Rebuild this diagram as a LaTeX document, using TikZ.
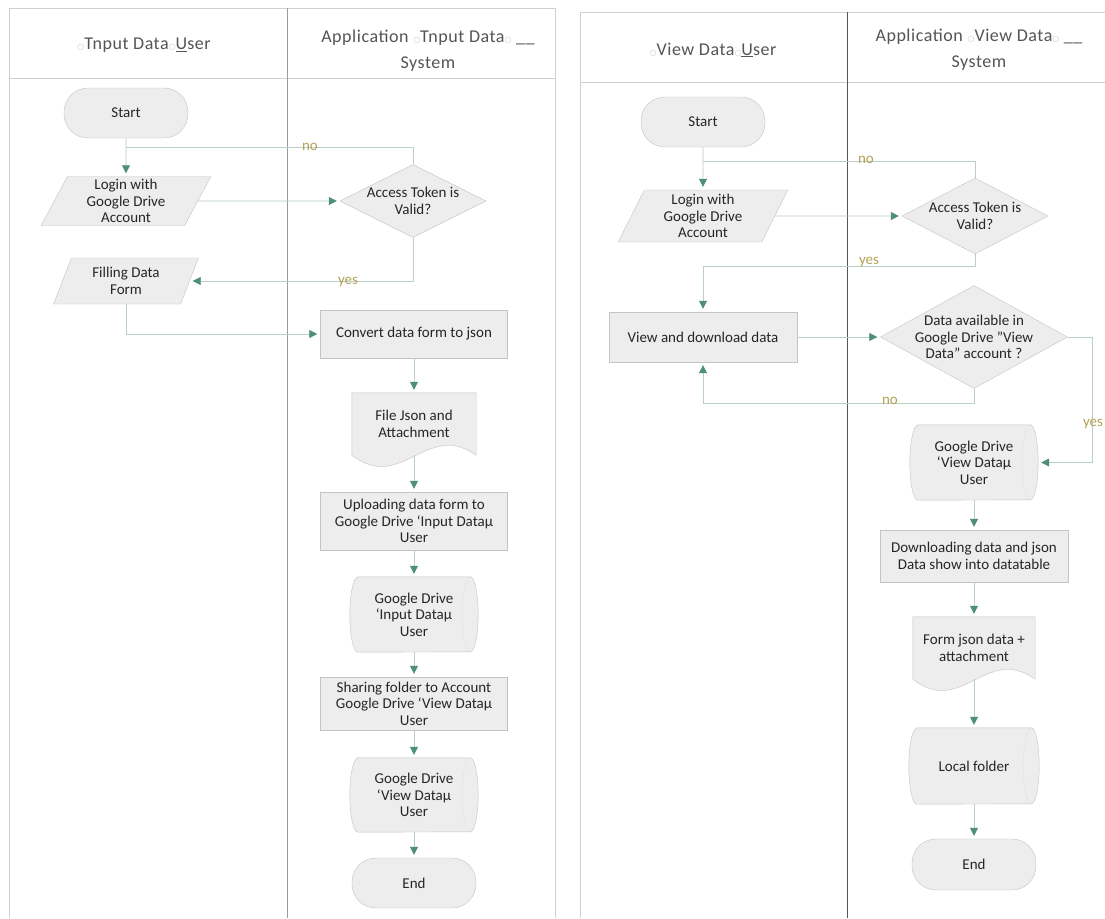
\documentclass[tikz,border=0pt]{standalone}
\usepackage{fontspec}
\setmainfont{Carlito}
\newfontfamily\symfont{DejaVu Sans}
\usetikzlibrary{shapes.geometric,arrows.meta,calc}
\pgfdeclarelayer{back}
\pgfdeclarelayer{shapes}
\pgfsetlayers{back,shapes,main}
\definecolor{nfill}{HTML}{EDEDED}
\definecolor{nline}{HTML}{C4C4C4}
\definecolor{inner}{HTML}{CFCFCF}
\definecolor{txt}{HTML}{262626}
\definecolor{lc}{HTML}{B8CEC6}
\definecolor{ac}{HTML}{4E8F77}
\definecolor{lblc}{HTML}{B4A257}
\definecolor{frame}{HTML}{D0D0D0}
\definecolor{divc}{HTML}{9A9A9A}
\definecolor{divd}{HTML}{555555}
\definecolor{hdr}{HTML}{555555}
\newcommand\nodefont{\fontsize{15}{16.5}\selectfont}
\newcommand\hdrfont{\fontsize{18}{26}\selectfont\addfontfeatures{LetterSpace=3}}
\newcommand\hc{{\symfont\fontsize{8}{8}\selectfont\textcolor{gray!45}{○}}}
\newcommand\qd{\symbol{"22}}
\newcommand\docshape[1]{%
  \path[draw=nline,fill=nfill] (#1.north west) -- (#1.north east) -- (#1.south east)
    .. controls ($(#1.south west)!0.6!(#1.south east)+(0,35)$) and ($(#1.south west)!0.4!(#1.south east)+(0,-38)$) .. (#1.south west) -- cycle;}
\newcommand\storedshape[2]{%
  \path[draw=nline,fill=nfill] ([xshift=8pt]#1.north west) -- ([xshift=-8pt]#1.north east)
    arc[start angle=90,end angle=-90,x radius=8pt,y radius=#2pt]
    -- ([xshift=8pt]#1.south west)
    arc[start angle=270,end angle=90,x radius=8pt,y radius=#2pt] -- cycle;
  \draw[inner, densely dotted] ([xshift=-8pt]#1.north east) arc[start angle=90,end angle=270,x radius=8pt,y radius=#2pt];}
\begin{document}
\begin{tikzpicture}[x=1pt,y=1pt,
  base/.style={inner sep=0pt, align=center, font=\nodefont, text=txt},
  term/.style={base, rectangle, rounded corners=24pt, draw=nline, fill=nfill},
  proc/.style={base, rectangle, draw=nline, fill=nfill},
  dec/.style={base, diamond, draw=nline, fill=nfill},
  io/.style={base, trapezium, trapezium left angle=68, trapezium right angle=112, trapezium stretches=true, draw=nline, fill=nfill},
  plain/.style={base, rectangle},
  conn/.style={draw=lc, line width=0.8pt, -{Triangle[length=8pt,width=8pt,color=ac]}, shorten >=3pt},
  link/.style={draw=lc, line width=0.8pt},
  lbl/.style={font=\nodefont, text=lblc, inner sep=1pt},
  hd/.style={align=center, font=\hdrfont, text=hdr, inner sep=0pt},
  fr/.style={draw=frame, line width=0.8pt}]
\useasboundingbox (0,0) rectangle (1105,-918);
\begin{pgfonlayer}{back}
\fill[white] (0,0) rectangle (1105,-918);
% left panel
\draw[fr] (9,-8) -- (555,-8);
\draw[fr] (9,-78) -- (555,-78);
\draw[fr] (9,-8) -- (9,-918);
\draw[fr] (555,-8) -- (555,-918);
\draw[draw=divc, line width=0.8pt] (287,-8) -- (287,-918);
% right panel
\draw[fr] (580,-12) -- (1105,-12);
\draw[fr] (580,-82) -- (1105,-82);
\draw[fr] (580,-12) -- (580,-918);
\draw[draw=divd, line width=0.8pt] (847,-12) -- (847,-918);
\end{pgfonlayer}

% headers
\node[hd] (h1) at (144,-45) {\hc Tnput Data\hc\underline{U}ser};
\node[hd] (h2) at (428,-51) {Application \hc Tnput Data\hc\ \_\_\\System};
\node[hd] (h3) at (713,-50) {\hc View Data\hc\underline{U}ser};
\node[hd] (h4) at (979,-50) {Application \hc View Data\hc\ \_\_\\System};

% ---------- left flow ----------
\node[term, minimum width=124pt, minimum height=50pt] (s1) at (126,-113) {Start};
\node[io, minimum width=170pt, minimum height=49pt] (l1) at (126,-201) {Login with\\Google Drive\\Account};
\node[dec, minimum width=146pt, minimum height=73pt] (a1) at (413,-201) {};
\node[base] (a1t) at (a1) {Access Token is\\Valid?};
\node[io, minimum width=145pt, minimum height=46pt] (f1) at (126,-281) {Filling Data\\Form};
\node[proc, minimum width=187pt, minimum height=48pt] (c1) at (414,-334) {Convert data form to json};
\node[plain, minimum width=124pt, minimum height=62pt] (d1) at (414,-424) {File Json and\\Attachment};
\node[proc, minimum width=187pt, minimum height=58pt] (u1) at (414,-521) {Uploading data form to\\Google Drive `Input Dataµ\\User};
\node[plain, minimum width=128pt, minimum height=75pt] (g1) at (414,-614.5) {Google Drive\\`Input Dataµ\\User};
\node[proc, minimum width=187pt, minimum height=53pt] (r1) at (414,-703.5) {Sharing folder to Account\\Google Drive `View Dataµ\\User};
\node[plain, minimum width=128pt, minimum height=74pt] (g2) at (414,-795) {Google Drive\\`View Dataµ\\User};
\node[term, minimum width=124pt, minimum height=50pt] (e1) at (414,-883) {End};

% ---------- right flow ----------
\node[term, minimum width=124pt, minimum height=50pt] (s2) at (703,-122) {Start};
\node[io, minimum width=170pt, minimum height=52pt] (l2) at (703,-216) {Login with\\Google Drive\\Account};
\node[dec, minimum width=146pt, minimum height=76pt] (a2) at (975,-216) {};
\node[base] (a2t) at (a2) {Access Token is\\Valid?};
\node[proc, minimum width=188pt, minimum height=50pt] (v2) at (703,-337) {View and download data};
\node[dec, minimum width=187pt, minimum height=103pt] (q2) at (974,-337) {};
\node[base] (q2t) at (q2) {Data available in\\Google Drive \qd View\\Data\qd\ account ?};
\node[plain, minimum width=128pt, minimum height=75pt] (g3) at (974,-462.5) {Google Drive\\`View Dataµ\\User};
\node[proc, minimum width=188pt, minimum height=52pt] (k1) at (974,-556) {Downloading data and json\\Data show into datatable};
\node[plain, minimum width=122pt, minimum height=62pt] (d2) at (974,-648) {Form json data +\\attachment};
\node[plain, minimum width=130pt, minimum height=76pt] (k2) at (974,-766) {Local folder};
\node[term, minimum width=124pt, minimum height=51pt] (e2) at (974,-864.5) {End};

\begin{pgfonlayer}{shapes}
\docshape{d1}
\docshape{d2}
\storedshape{g1}{37.5}
\storedshape{g2}{37}
\storedshape{g3}{37.5}
\storedshape{k2}{38}
\end{pgfonlayer}

% ---------- left connectors ----------
\coordinate (j1) at (126,-147);
\draw[conn] (s1.south) -- (l1.north);
\draw[link] (a1.north) |- (j1);
\node[lbl] (lb1) at (310,-147) {no};
\draw[conn] (l1.east) -- (a1.west);
\draw[conn] (a1.south) |- (f1.east);
\node[lbl] (lb2) at (348,-282) {yes};
\draw[conn] (f1.south) |- (c1.west);
\draw[conn] (c1.south) -- (d1.north);
\draw[conn] (d1.south) -- (u1.north);
\draw[conn] (u1.south) -- (g1.north);
\draw[conn] (g1.south) -- (r1.north);
\draw[conn] (r1.south) -- (g2.north);
\draw[conn] (g2.south) -- (e1.north);

% ---------- right connectors ----------
\coordinate (j2) at (703,-161);
\draw[conn] (s2.south) -- (l2.north);
\draw[link] (a2.north) |- (j2);
\node[lbl] (lb3) at (866,-160) {no};
\draw[conn] (l2.east) -- (a2.west);
\draw[conn] (a2.south) -- ++(0,-12) -| (v2.north);
\node[lbl] (lb4) at (869,-262) {yes};
\draw[conn] (v2.east) -- (q2.west);
\draw[conn] (q2.south) -- ++(0,-15) -| (v2.south);
\node[lbl] (lb5) at (890,-401) {no};
\draw[conn] (q2.east) -- ++(25,0) |- (g3.east);
\node[lbl] (lb6) at (1093,-424) {yes};
\draw[conn] (g3.south) -- (k1.north);
\draw[conn] (k1.south) -- (d2.north);
\draw[conn] (d2.south) -- (k2.north);
\draw[conn] (k2.south) -- (e2.north);
\end{tikzpicture}
\end{document}
